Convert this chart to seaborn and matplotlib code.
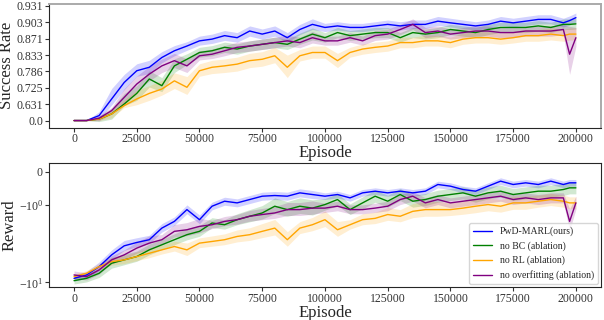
import numpy as np
import pandas as pd
import matplotlib
matplotlib.use("Agg")
import matplotlib.pyplot as plt
import seaborn as sns

# ---------------- data ----------------
EPISODES = list(range(0, 200000, 5000)) + [197500, 200000]
METHODS = ["PwD-MARL(ours)", "no BC (ablation)", "no RL (ablation)", "no overfitting (ablation)"]
COLORS = ["blue", "green", "orange", "purple"]

SR_TICKS = [0.0, 0.631, 0.725, 0.786, 0.833, 0.871, 0.903, 0.931]
SR_TICK_LABELS = ["0.0", "0.631", "0.725", "0.786", "0.833", "0.871", "0.903", "0.931"]
X_TICKS = [0, 25000, 50000, 75000, 100000, 125000, 150000, 175000, 200000]

sr_pwd = [0.0, 0.0, 0.192, 0.661, 0.745, 0.788, 0.798, 0.826, 0.843, 0.854,
          0.866, 0.870, 0.877, 0.873, 0.886, 0.880, 0.886, 0.873, 0.889, 0.899,
          0.893, 0.896, 0.893, 0.893, 0.896, 0.899, 0.896, 0.899, 0.899, 0.905,
          0.902, 0.899, 0.896, 0.899, 0.905, 0.902, 0.905, 0.908, 0.908, 0.902,
          0.906, 0.911]
sr_nobc = [0.0, 0.0, 0.06, 0.256, 0.632, 0.693, 0.758, 0.733, 0.802, 0.821,
           0.839, 0.843, 0.851, 0.847, 0.854, 0.858, 0.862, 0.858, 0.870, 0.880,
           0.873, 0.883, 0.877, 0.880, 0.883, 0.883, 0.873, 0.883, 0.880, 0.883,
           0.889, 0.886, 0.883, 0.889, 0.893, 0.893, 0.893, 0.896, 0.893, 0.899,
           0.899, 0.900]
sr_norl = [0.0, 0.0, 0.06, 0.256, 0.576, 0.661, 0.693, 0.718, 0.751, 0.727,
           0.788, 0.798, 0.802, 0.807, 0.817, 0.821, 0.831, 0.798, 0.831, 0.839,
           0.839, 0.817, 0.839, 0.847, 0.851, 0.854, 0.862, 0.862, 0.866, 0.866,
           0.862, 0.870, 0.873, 0.873, 0.870, 0.873, 0.877, 0.877, 0.880, 0.877,
           0.880, 0.880]
sr_noof = [0.0, 0.0, 0.09, 0.384, 0.670, 0.739, 0.776, 0.802, 0.817, 0.802,
           0.831, 0.835, 0.843, 0.851, 0.854, 0.858, 0.862, 0.866, 0.862, 0.873,
           0.866, 0.866, 0.873, 0.866, 0.877, 0.880, 0.889, 0.899, 0.883, 0.886,
           0.880, 0.883, 0.886, 0.886, 0.883, 0.883, 0.886, 0.886, 0.886, 0.889,
           0.835, 0.873]

sr_pwd_std = [0.0, 0.0, 0.15, 0.06, 0.03, 0.02, 0.02, 0.015, 0.012, 0.010,
              0.010, 0.010, 0.010, 0.010, 0.010, 0.010, 0.010, 0.010, 0.010, 0.010,
              0.008, 0.008, 0.008, 0.008, 0.008, 0.008, 0.008, 0.008, 0.008, 0.008,
              0.008, 0.008, 0.008, 0.008, 0.008, 0.008, 0.008, 0.008, 0.008, 0.008,
              0.008, 0.008]
sr_nobc_std = [0.0, 0.0, 0.10, 0.20, 0.06, 0.04, 0.03, 0.03, 0.02, 0.015,
               0.012, 0.012, 0.012, 0.012, 0.012, 0.012, 0.012, 0.012, 0.012, 0.012,
               0.010, 0.010, 0.010, 0.010, 0.010, 0.010, 0.010, 0.010, 0.010, 0.010,
               0.010, 0.010, 0.010, 0.010, 0.010, 0.010, 0.010, 0.010, 0.010, 0.010,
               0.010, 0.010]
sr_norl_std = [0.0, 0.0, 0.06, 0.15, 0.08, 0.05, 0.04, 0.035, 0.03, 0.04,
               0.02, 0.02, 0.02, 0.02, 0.02, 0.02, 0.02, 0.035, 0.015, 0.015,
               0.015, 0.02, 0.012, 0.012, 0.012, 0.012, 0.012, 0.012, 0.012, 0.012,
               0.012, 0.012, 0.012, 0.012, 0.012, 0.012, 0.012, 0.012, 0.012, 0.012,
               0.012, 0.012]
sr_noof_std = [0.0, 0.0, 0.10, 0.12, 0.05, 0.03, 0.025, 0.02, 0.02, 0.02,
               0.012, 0.012, 0.012, 0.012, 0.012, 0.012, 0.012, 0.012, 0.012, 0.012,
               0.010, 0.010, 0.010, 0.010, 0.010, 0.010, 0.010, 0.010, 0.010, 0.010,
               0.010, 0.010, 0.010, 0.010, 0.010, 0.010, 0.010, 0.010, 0.010, 0.010,
               0.06, 0.02]

rw_pwd = [-8.87, -8.02, -6.25, -4.40, -3.36, -3.04, -2.80, -1.98, -1.62, -1.14,
          -1.54, -1.03, -0.88, -0.93, -0.83, -0.73, -0.71, -0.73, -0.63, -0.68,
          -0.73, -0.68, -0.78, -0.63, -0.58, -0.63, -0.58, -0.63, -0.58, -0.38,
          -0.43, -0.53, -0.58, -0.43, -0.28, -0.38, -0.33, -0.38, -0.28, -0.38,
          -0.33, -0.33]
rw_nobc = [-9.51, -8.87, -7.63, -5.65, -5.11, -4.63, -3.79, -3.26, -2.80, -2.41,
           -2.18, -1.70, -1.79, -1.54, -1.39, -1.26, -1.03, -1.14, -1.03, -1.09,
           -0.98, -0.83, -1.14, -0.93, -0.73, -0.88, -0.68, -0.88, -0.83, -0.73,
           -0.68, -0.63, -0.73, -0.63, -0.58, -0.68, -0.63, -0.58, -0.58, -0.53,
           -0.48, -0.48]
rw_norl = [-8.43, -7.63, -6.25, -5.38, -5.11, -4.63, -4.19, -3.79, -3.43, -3.79,
           -3.10, -2.95, -2.80, -2.54, -2.41, -2.18, -1.98, -2.80, -1.98, -1.79,
           -1.54, -2.08, -1.79, -1.54, -1.48, -1.32, -1.39, -1.20, -1.14, -1.14,
           -1.14, -1.09, -1.03, -0.98, -1.03, -0.93, -0.93, -0.88, -0.83, -0.88,
           -0.93, -0.93]
rw_noof = [-8.02, -8.43, -6.90, -5.11, -4.40, -3.60, -3.10, -2.80, -2.18, -2.08,
           -1.88, -1.79, -1.62, -1.54, -1.39, -1.32, -1.26, -1.14, -1.14, -1.09,
           -1.09, -1.03, -1.14, -1.14, -1.09, -1.03, -0.83, -0.73, -0.93, -0.83,
           -0.93, -0.88, -0.83, -0.78, -0.73, -0.83, -0.78, -0.83, -0.78, -0.78,
           -1.62, -0.93]

rw_pwd_std = [0.8, 0.8, 0.8, 0.6, 0.5, 0.4, 0.35, 0.25, 0.2, 0.15,
              0.2, 0.12, 0.12, 0.12, 0.12, 0.12, 0.12, 0.12, 0.12, 0.12,
              0.10, 0.10, 0.10, 0.10, 0.10, 0.10, 0.10, 0.10, 0.10, 0.10,
              0.10, 0.10, 0.10, 0.10, 0.10, 0.10, 0.10, 0.10, 0.10, 0.10,
              0.10, 0.10]
rw_nobc_std = [1.0, 1.0, 1.0, 0.9, 0.8, 0.7, 0.6, 0.5, 0.45, 0.4,
               0.35, 0.25, 0.25, 0.25, 0.25, 0.25, 0.25, 0.25, 0.25, 0.25,
               0.18, 0.18, 0.18, 0.18, 0.18, 0.18, 0.18, 0.18, 0.18, 0.18,
               0.18, 0.18, 0.18, 0.18, 0.18, 0.18, 0.18, 0.18, 0.18, 0.18,
               0.18, 0.18]
rw_norl_std = [0.6, 0.6, 0.6, 0.6, 0.6, 0.6, 0.6, 0.5, 0.5, 0.7,
               0.45, 0.45, 0.45, 0.45, 0.45, 0.45, 0.45, 0.6, 0.35, 0.35,
               0.35, 0.45, 0.25, 0.25, 0.25, 0.25, 0.25, 0.25, 0.25, 0.25,
               0.22, 0.22, 0.22, 0.2, 0.2, 0.2, 0.2, 0.18, 0.18, 0.18,
               0.18, 0.18]
rw_noof_std = [0.9, 0.9, 0.9, 0.6, 0.6, 0.6, 0.6, 0.4, 0.4, 0.4,
               0.4, 0.22, 0.22, 0.22, 0.22, 0.22, 0.22, 0.22, 0.22, 0.22,
               0.15, 0.15, 0.15, 0.15, 0.15, 0.15, 0.15, 0.15, 0.15, 0.15,
               0.15, 0.15, 0.15, 0.15, 0.15, 0.15, 0.15, 0.15, 0.15, 0.15,
               0.5, 0.2]

SR = [sr_pwd, sr_nobc, sr_norl, sr_noof]
SR_STD = [sr_pwd_std, sr_nobc_std, sr_norl_std, sr_noof_std]
RW = [rw_pwd, rw_nobc, rw_norl, rw_noof]
RW_STD = [rw_pwd_std, rw_nobc_std, rw_norl_std, rw_noof_std]

rows = []
for m, sr, sd, rw, rsd in zip(METHODS, SR, SR_STD, RW, RW_STD):
    for e, a, b, c, d in zip(EPISODES, sr, sd, rw, rsd):
        rows.append(dict(Episode=e, method=m, success=a, success_std=b, reward=c, reward_std=d))
df = pd.DataFrame(rows)

# ---------------- style ----------------
sns.set_style("ticks")
plt.rcParams["font.family"] = ["Liberation Serif", "DejaVu Serif"]
plt.rcParams["mathtext.fontset"] = "stix"
plt.rcParams["axes.unicode_minus"] = True

# piecewise-linear scale for success rate: tick values equally spaced
_T = np.array(SR_TICKS)
_I = np.arange(len(_T), dtype=float)


def _fwd(v):
    v = np.asarray(v, dtype=float)
    out = np.interp(v, _T, _I)
    out = np.where(v < _T[0], (v - _T[0]) / (_T[1] - _T[0]), out)
    out = np.where(v > _T[-1], _I[-1] + (v - _T[-1]) / (_T[-1] - _T[-2]), out)
    return out


def _inv(p):
    p = np.asarray(p, dtype=float)
    out = np.interp(p, _I, _T)
    out = np.where(p < _I[0], _T[0] + (p - _I[0]) * (_T[1] - _T[0]), out)
    out = np.where(p > _I[-1], _T[-1] + (p - _I[-1]) * (_T[-1] - _T[-2]), out)
    return out


fig, (ax1, ax2) = plt.subplots(2, 1, figsize=(6.04, 3.2), dpi=100)
fig.subplots_adjust(left=0.081, right=0.995, top=0.9875, bottom=0.103, hspace=0.29)

palette = dict(zip(METHODS, COLORS))

# ----- top: success rate -----
ax1.set_yscale("function", functions=(_fwd, _inv))
for m in METHODS:
    d = df[df.method == m]
    ax1.fill_between(d.Episode, d.success - d.success_std, d.success + d.success_std,
                     color=palette[m], alpha=0.18, linewidth=0)
sns.lineplot(data=df, x="Episode", y="success", hue="method", palette=palette,
             estimator=None, linewidth=1.0, ax=ax1, legend=False)
ax1.set_yticks(SR_TICKS, labels=SR_TICK_LABELS)
ax1.yaxis.set_minor_locator(matplotlib.ticker.NullLocator())
ax1.set_ylim(float(_inv(-0.43)), float(_inv(7.12)))
ax1.set_xlim(-10000, 210000)
ax1.set_xticks(X_TICKS)
for s in ["top", "right"]:
    ax1.spines[s].set_color("#aaaaaa")
    ax1.spines[s].set_linewidth(1.4)

# ----- bottom: reward -----
ax2.set_yscale("symlog", linthresh=1, linscale=0.39)
for m in METHODS:
    d = df[df.method == m]
    ax2.fill_between(d.Episode, d.reward - d.reward_std, d.reward + d.reward_std,
                     color=palette[m], alpha=0.18, linewidth=0)
sns.lineplot(data=df, x="Episode", y="reward", hue="method", palette=palette,
             estimator=None, linewidth=1.0, ax=ax2)
ax2.set_yticks([-10, -1, 0])
ax2.yaxis.set_minor_locator(matplotlib.ticker.NullLocator())
ax2.set_ylim(-11.5, 0.25)
ax2.set_xlim(-10000, 210000)
ax2.set_xticks(X_TICKS)
leg = ax2.legend(loc="lower right", fontsize=7, frameon=True, borderaxespad=0.3)
leg.set_title(None)

for ax, yl in ((ax1, "Success Rate"), (ax2, "Reward")):
    ax.tick_params(axis="both", labelsize=8.5, length=3, width=0.8, pad=1, colors="#333333")
    ax.set_xlabel("Episode", fontsize=12, labelpad=0)
    ax.set_ylabel(yl, fontsize=12, labelpad=1)

fig.savefig("out.png", dpi=100)
